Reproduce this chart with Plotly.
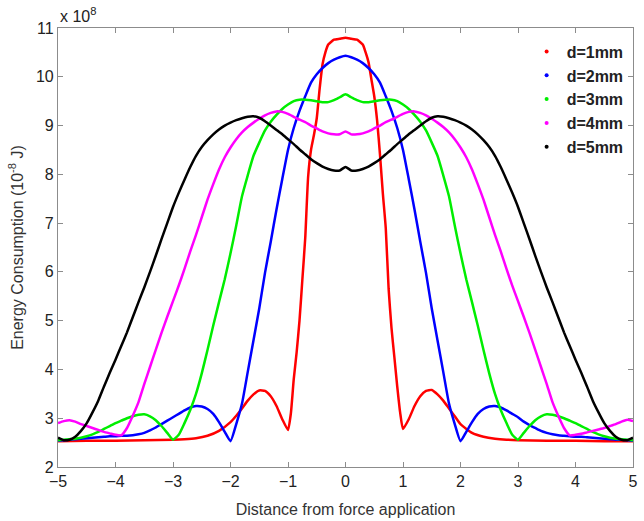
import plotly.graph_objects as go

# ---------------- data ----------------
X_GRID = [-5.0, -4.9, -4.8, -4.7, -4.6, -4.5, -4.4, -4.3, -4.2, -4.1,
          -4.0, -3.9, -3.8, -3.7, -3.6, -3.5, -3.4, -3.3, -3.2, -3.1,
          -3.0, -2.9, -2.8, -2.7, -2.6, -2.5, -2.4, -2.3, -2.2, -2.1,
          -2.0, -1.9, -1.8, -1.7, -1.6, -1.5, -1.4, -1.3, -1.2, -1.1,
          -1.0, -0.9, -0.8, -0.7, -0.6, -0.5, -0.4, -0.3, -0.2, -0.1,
          0.0,
          0.1, 0.2, 0.3, 0.4, 0.5, 0.6, 0.7, 0.8, 0.9, 1.0,
          1.1, 1.2, 1.3, 1.4, 1.5, 1.6, 1.7, 1.8, 1.9, 2.0,
          2.1, 2.2, 2.3, 2.4, 2.5, 2.6, 2.7, 2.8, 2.9, 3.0,
          3.1, 3.2, 3.3, 3.4, 3.5, 3.6, 3.7, 3.8, 3.9, 4.0,
          4.1, 4.2, 4.3, 4.4, 4.5, 4.6, 4.7, 4.8, 4.9, 5.0]

x_d1 = [-5, -4.5, -4, -3.5, -3, -2.8, -2.6, -2.4, -2.2, -2.0,
        -1.9, -1.8, -1.7, -1.6, -1.5, -1.4, -1.3, -1.2, -1.1, -1.0,
        -0.95, -0.9, -0.85, -0.8, -0.75, -0.7, -0.65, -0.6, -0.55, -0.5,
        -0.45, -0.4, -0.35, -0.3, -0.2, -0.1, 0,
        0.1, 0.2, 0.3, 0.35, 0.4, 0.45, 0.5, 0.55, 0.6, 0.65,
        0.7, 0.75, 0.8, 0.85, 0.9, 0.95, 1.0,
        1.1, 1.2, 1.3, 1.4, 1.5, 1.6, 1.7, 1.8, 1.9, 2.0,
        2.2, 2.4, 2.6, 2.8, 3, 3.5, 4, 4.5, 5]
y_d1 = [2.53, 2.54, 2.54, 2.55, 2.56, 2.57, 2.59, 2.64, 2.74, 2.92,
        3.05, 3.2, 3.36, 3.49, 3.57, 3.56, 3.45, 3.25, 2.98, 2.76,
        3.1, 3.8, 4.35, 5.0, 5.85, 6.7, 7.95, 8.5, 8.8, 9.15,
        9.75, 10.25, 10.5, 10.66, 10.76, 10.78, 10.8,
        10.78, 10.76, 10.66, 10.5, 10.3, 9.95, 9.6, 9.1, 8.4, 7.6,
        6.9, 5.65, 4.85, 4.25, 3.65, 3.12, 2.78,
        2.98, 3.25, 3.45, 3.56, 3.58, 3.49, 3.36, 3.2, 3.04, 2.88,
        2.7, 2.62, 2.58, 2.56, 2.55, 2.54, 2.54, 2.53, 2.53]

y_d2 = [2.54, 2.55, 2.56, 2.57, 2.58, 2.59, 2.60, 2.61, 2.62, 2.63,
        2.63, 2.64, 2.64, 2.65, 2.67, 2.70, 2.75, 2.81, 2.88, 2.95,
        3.02, 3.09, 3.16, 3.22, 3.25, 3.24, 3.19, 3.09, 2.92, 2.72,
        2.53, 2.88, 3.30, 3.95, 4.60, 5.25, 5.98, 6.62, 7.28, 7.90,
        8.50, 8.95, 9.30, 9.60, 9.88, 10.05, 10.18, 10.28, 10.35, 10.40,
        10.43,
        10.40, 10.35, 10.28, 10.18, 10.05, 9.88, 9.60, 9.30, 8.95, 8.50,
        7.90, 7.28, 6.62, 5.98, 5.25, 4.60, 3.95, 3.30, 2.88, 2.53,
        2.72, 2.92, 3.09, 3.19, 3.24, 3.25, 3.22, 3.16, 3.09, 3.02,
        2.93, 2.86, 2.80, 2.74, 2.70, 2.67, 2.65, 2.64, 2.63, 2.62,
        2.62, 2.61, 2.60, 2.59, 2.58, 2.57, 2.56, 2.56, 2.55, 2.54]

y_d3 = [2.55, 2.56, 2.57, 2.58, 2.60, 2.63, 2.67, 2.72, 2.78, 2.84,
        2.90, 2.95, 3.00, 3.04, 3.07, 3.08, 3.04, 2.96, 2.84, 2.70,
        2.56, 2.66, 2.90, 3.17, 3.50, 3.92, 4.40, 4.90, 5.38, 5.85,
        6.38, 6.95, 7.55, 7.98, 8.38, 8.65, 8.90, 9.08, 9.22, 9.34,
        9.43, 9.50, 9.53, 9.53, 9.52, 9.50, 9.48, 9.48, 9.52, 9.58,
        9.64,
        9.58, 9.52, 9.48, 9.48, 9.50, 9.52, 9.53, 9.53, 9.50, 9.43,
        9.34, 9.22, 9.08, 8.90, 8.65, 8.38, 7.98, 7.55, 6.95, 6.38,
        5.85, 5.38, 4.90, 4.40, 3.92, 3.50, 3.17, 2.90, 2.66, 2.56,
        2.70, 2.84, 2.96, 3.04, 3.08, 3.07, 3.04, 3.00, 2.95, 2.90,
        2.84, 2.78, 2.72, 2.67, 2.63, 2.60, 2.58, 2.57, 2.56, 2.55]

y_d4 = [2.90, 2.94, 2.96, 2.93, 2.88, 2.84, 2.80, 2.76, 2.72, 2.69,
        2.66, 2.65, 2.80, 3.05, 3.33, 3.70, 4.05, 4.40, 4.75, 5.08,
        5.40, 5.72, 6.06, 6.42, 6.76, 7.12, 7.48, 7.80, 8.10, 8.35,
        8.55, 8.72, 8.86, 8.97, 9.06, 9.14, 9.21, 9.26, 9.29, 9.28,
        9.24, 9.18, 9.12, 9.07, 9.00, 8.94, 8.88, 8.84, 8.82, 8.82,
        8.88,
        8.82, 8.82, 8.84, 8.88, 8.94, 9.00, 9.07, 9.12, 9.18, 9.24,
        9.28, 9.29, 9.26, 9.21, 9.14, 9.06, 8.97, 8.86, 8.72, 8.55,
        8.35, 8.10, 7.80, 7.48, 7.12, 6.76, 6.42, 6.06, 5.72, 5.40,
        5.08, 4.75, 4.40, 4.05, 3.70, 3.33, 3.05, 2.80, 2.65, 2.66,
        2.68, 2.71, 2.74, 2.77, 2.80, 2.84, 2.88, 2.93, 2.97, 2.94]

y_d5 = [2.60, 2.55, 2.56, 2.62, 2.74, 2.90, 3.12, 3.36, 3.65, 3.93,
        4.20, 4.48, 4.76, 5.07, 5.38, 5.68, 6.00, 6.33, 6.67, 7.00,
        7.33, 7.62, 7.89, 8.15, 8.38, 8.56, 8.70, 8.82, 8.92, 9.00,
        9.06, 9.11, 9.15, 9.18, 9.19, 9.16, 9.09, 9.00, 8.91, 8.82,
        8.72, 8.62, 8.51, 8.41, 8.31, 8.23, 8.16, 8.11, 8.08, 8.08,
        8.15,
        8.08, 8.08, 8.11, 8.16, 8.23, 8.31, 8.41, 8.51, 8.62, 8.72,
        8.82, 8.91, 9.00, 9.09, 9.16, 9.19, 9.18, 9.15, 9.11, 9.06,
        9.00, 8.92, 8.82, 8.70, 8.56, 8.38, 8.15, 7.89, 7.62, 7.33,
        7.00, 6.67, 6.33, 6.00, 5.68, 5.38, 5.07, 4.76, 4.48, 4.20,
        3.93, 3.65, 3.36, 3.12, 2.90, 2.74, 2.62, 2.56, 2.55, 2.60]

series_names = ["d=1mm", "d=2mm", "d=3mm", "d=4mm", "d=5mm"]
series_colors = ["#ff0000", "#0000ff", "#00ee00", "#ff00ff", "#000000"]
x_ticks = [-5, -4, -3, -2, -1, 0, 1, 2, 3, 4, 5]
y_ticks = [2, 3, 4, 5, 6, 7, 8, 9, 10, 11]

# ---------------- figure ----------------
FONT = "Liberation Sans, Arial, sans-serif"
xs = [x_d1, X_GRID, X_GRID, X_GRID, X_GRID]
ys = [y_d1, y_d2, y_d3, y_d4, y_d5]

fig = go.Figure()
for xv, yv, c in zip(xs, ys, series_colors):
    fig.add_trace(go.Scatter(x=xv, y=yv, mode="lines",
                             line=dict(color=c, width=2.5, shape="spline", smoothing=0.5),
                             showlegend=False, hoverinfo="skip"))
for n, c in zip(series_names, series_colors):
    fig.add_trace(go.Scatter(x=[None], y=[None], mode="markers", name=n,
                             marker=dict(color=c, size=4)))

axis_common = dict(showline=True, linecolor="#8c8c8c", linewidth=1.2, mirror="ticks",
                   ticks="inside", ticklen=5, tickcolor="#8c8c8c", showgrid=False,
                   zeroline=False, tickfont=dict(family=FONT, size=16, color="#222"))

fig.update_layout(
    width=644, height=521,
    margin=dict(l=58, r=6, t=28, b=53),
    plot_bgcolor="white", paper_bgcolor="white",
    font=dict(family=FONT, color="#222"),
    xaxis=dict(range=[-5, 5], tickvals=x_ticks, **axis_common,
               title=dict(text="Distance from force application",
                          font=dict(family=FONT, size=16, color="#333"), standoff=14)),
    yaxis=dict(range=[2, 11], tickvals=y_ticks, **axis_common,
               title=dict(text="Energy Consumption (10<sup>-8</sup> J)",
                          font=dict(family=FONT, size=16, color="#333"), standoff=8)),
    legend=dict(x=0.815, y=0.985, xanchor="left", yanchor="top",
                bgcolor="rgba(0,0,0,0)", borderwidth=0,
                font=dict(family=FONT, size=16, color="#222", weight="bold"),
                tracegroupgap=0, itemwidth=30),
    annotations=[dict(text="x 10<sup>8</sup>", x=0, y=1, xref="paper", yref="paper",
                      xanchor="left", yanchor="bottom", showarrow=False, yshift=1,
                      font=dict(family=FONT, size=16, color="#222"))],
)

fig.write_html("out.html")
